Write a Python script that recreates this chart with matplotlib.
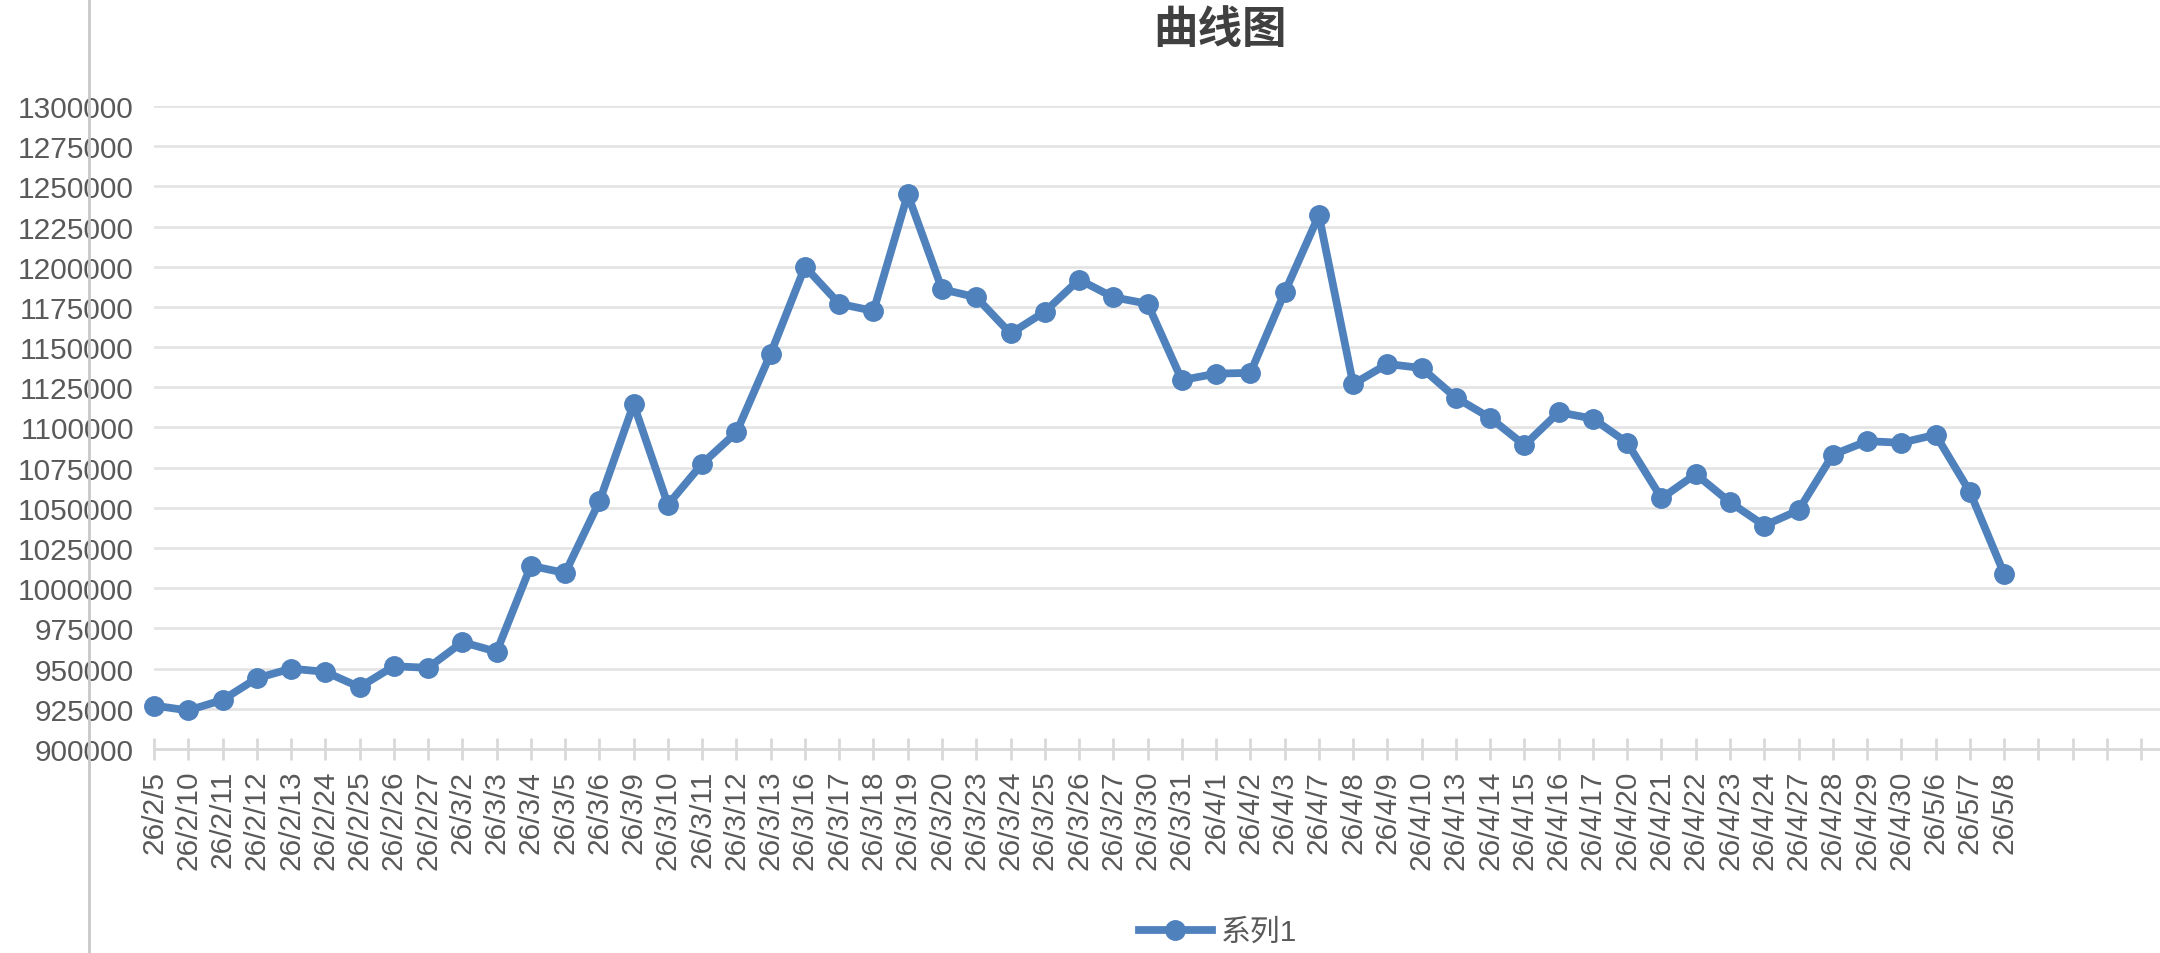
import matplotlib
matplotlib.use("Agg")
from matplotlib import pyplot as plt
from matplotlib.lines import Line2D

plt.rcParams['font.family'] = ['Liberation Sans', 'Noto Sans CJK SC', 'DejaVu Sans']

# data
dates = ['26/2/5', '26/2/10', '26/2/11', '26/2/12', '26/2/13', '26/2/24', '26/2/25',
         '26/2/26', '26/2/27', '26/3/2', '26/3/3', '26/3/4', '26/3/5', '26/3/6',
         '26/3/9', '26/3/10', '26/3/11', '26/3/12', '26/3/13', '26/3/16', '26/3/17',
         '26/3/18', '26/3/19', '26/3/20', '26/3/23', '26/3/24', '26/3/25', '26/3/26',
         '26/3/27', '26/3/30', '26/3/31', '26/4/1', '26/4/2', '26/4/3', '26/4/7',
         '26/4/8', '26/4/9', '26/4/10', '26/4/13', '26/4/14', '26/4/15', '26/4/16',
         '26/4/17', '26/4/20', '26/4/21', '26/4/22', '26/4/23', '26/4/24', '26/4/27',
         '26/4/28', '26/4/29', '26/4/30', '26/5/6', '26/5/7', '26/5/8']
values = [927000, 924000, 930500, 944000, 950000, 948000, 938500,
          951500, 950500, 966500, 960500, 1014000, 1009500, 1054000,
          1114500, 1052000, 1077500, 1097000, 1146000, 1200000, 1177000,
          1172500, 1245000, 1186000, 1181000, 1158500, 1172000, 1192000,
          1181000, 1177000, 1129500, 1133500, 1134000, 1184000, 1232000,
          1127000, 1139500, 1137000, 1118500, 1106000, 1089000, 1109500,
          1105500, 1090500, 1056000, 1071000, 1053500, 1039000, 1048500,
          1083000, 1091500, 1090500, 1095500, 1060000, 1009000]
series_name = "系列1"
title = "曲线图"
y_ticks = list(range(900000, 1300001, 25000))
empty_slots = 4  # blank categories at the end of the axis

blue = '#4F81BD'
grey_text = '#595959'
grey_axis = '#D9D9D9'
grey_grid = '#E3E3E3'

fig = plt.figure(figsize=(21.6, 9.54), dpi=100)
ax = fig.add_axes([154 / 2160, 1 - 750 / 954, 1 - 154 / 2160, (750 - 107) / 954])

xs = list(range(len(dates)))
ax.plot(xs, values, color=blue, linewidth=5.6, marker='o', markersize=14,
        markerfacecolor=blue, markeredgecolor=blue, label=series_name,
        solid_joinstyle='round', clip_on=False, zorder=3)

n_slots = len(dates) + empty_slots
ax.set_xlim(0, n_slots - 1 + 0.55)
ax.set_ylim(y_ticks[0], y_ticks[-1])

ax.set_xticks(range(n_slots))
ax.set_xticklabels(dates + [''] * empty_slots, rotation=90, ha='center', va='top')
ax.set_yticks(y_ticks)
ax.set_yticklabels([str(v) for v in y_ticks])

for v in y_ticks[1:]:
    ax.axhline(v, color=grey_grid, linewidth=1.9, zorder=1)

for side in ['top', 'right', 'left']:
    ax.spines[side].set_visible(False)
ax.spines['bottom'].set_color(grey_axis)
ax.spines['bottom'].set_linewidth(2)
ax.spines['bottom'].set_zorder(2)

ax.tick_params(axis='x', direction='inout', length=16, width=2, color=grey_axis,
               labelsize=21.5, labelcolor=grey_text, pad=7)
ax.tick_params(axis='y', length=0, labelsize=21.5, labelcolor=grey_text, pad=14.5)

# grey border line on the left of the picture
fig.add_artist(Line2D([89 / 2160, 89 / 2160], [0, 1], color='#C8C8C8', linewidth=2,
                      transform=fig.transFigure))

fig.text(1220 / 2160, 1 - 30 / 954, title, ha='center', va='center', fontsize=32,
         fontweight='bold', color='#404040', family=['Noto Sans CJK SC', 'DejaVu Sans'])

fig.legend(loc='center', bbox_to_anchor=(1218 / 2160, 1 - 933 / 954), frameon=False,
           fontsize=21.5, labelcolor=grey_text, handlelength=2.45, handletextpad=0.3,
           borderpad=0, borderaxespad=0)

fig.savefig("out.png", dpi=100)
